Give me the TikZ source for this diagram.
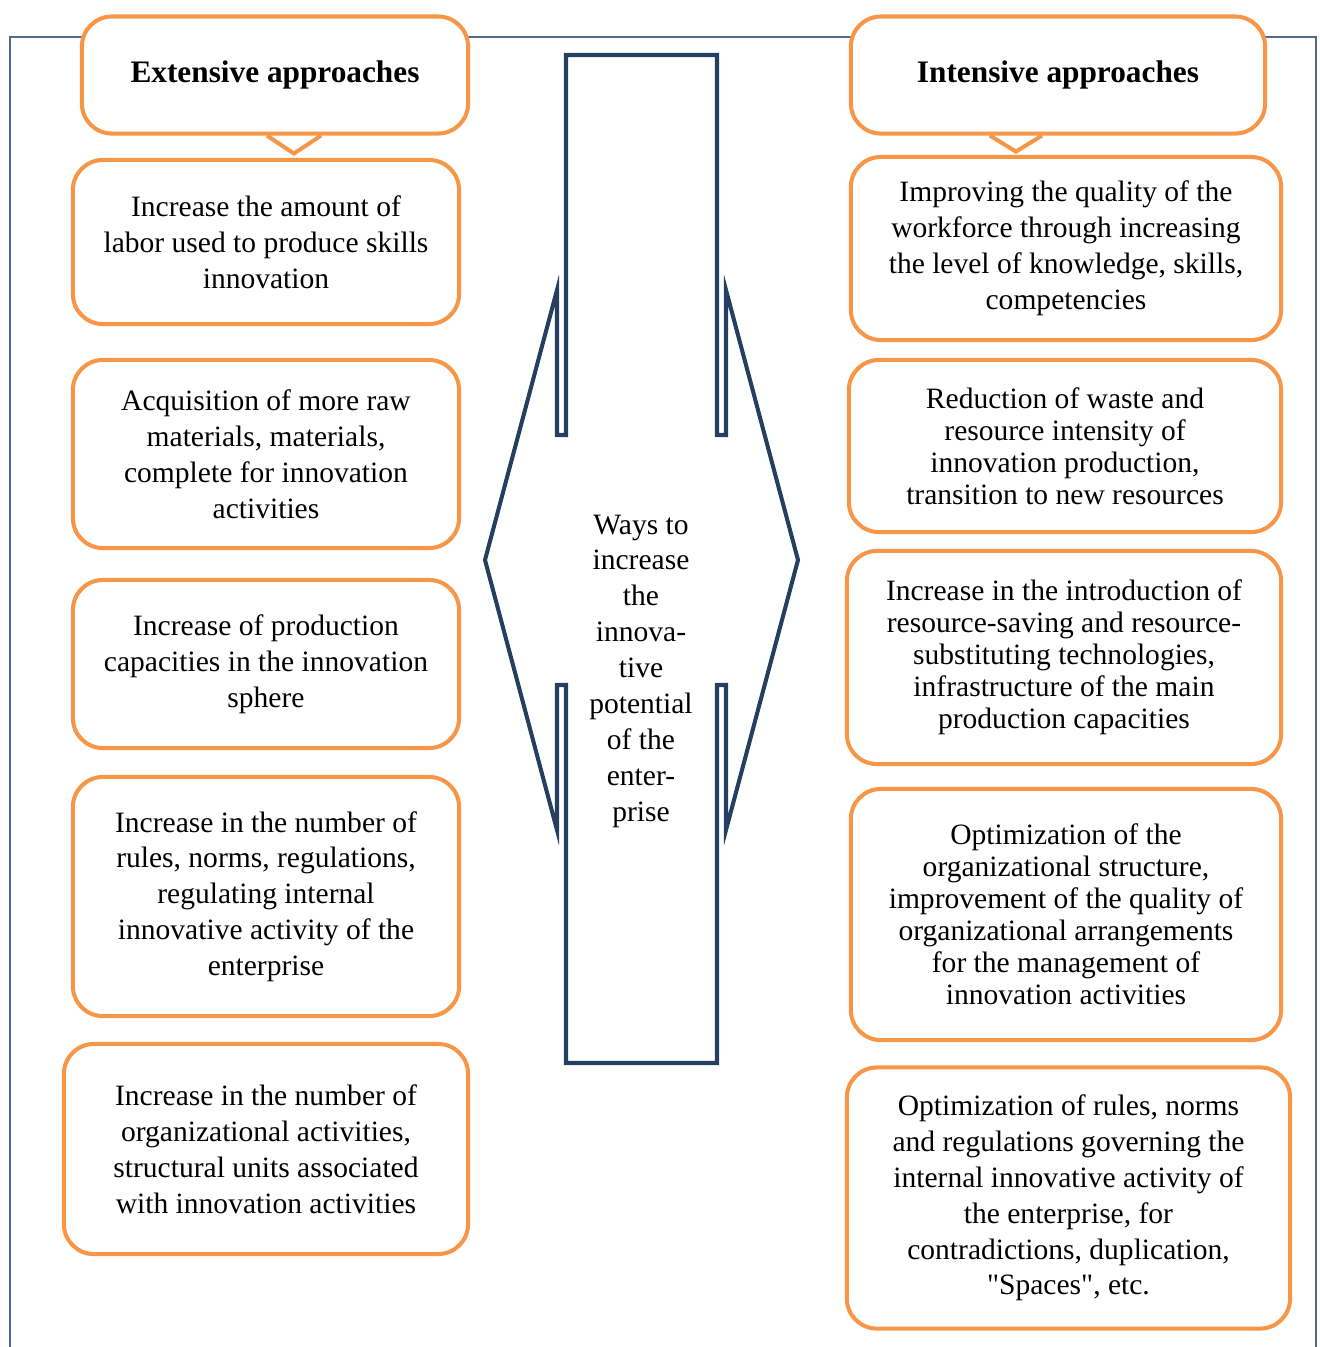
\documentclass[tikz,border=0pt]{standalone}
\usepackage{fontspec}
\setmainfont{Liberation Serif}
\usepackage{tikz}
\usetikzlibrary{positioning}
\definecolor{BoxOrange}{HTML}{F79646}
\definecolor{ArrowNavy}{HTML}{243F60}
\definecolor{FrameSlate}{HTML}{4F6A8A}

\begin{document}
\begin{tikzpicture}[x=0.01cm, y=-0.01cm,
    every node/.style={align=center, font=\fontsize{8.4}{10.2}\selectfont},
    box/.style={draw=BoxOrange, line width=1.15pt, rounded corners=0.3cm, fill=white},
    headbox/.style={box, font=\fontsize{8.9}{11}\selectfont\bfseries},
    tight/.style={font=\fontsize{8.4}{9.1}\selectfont},
    pointer/.style={draw=BoxOrange, line width=1.15pt, line join=miter}]
  \useasboundingbox (0,0) rectangle (1320,1347);

  % Outer frame
  \draw[FrameSlate, line width=0.5pt] (10,1347) -- (10,37) -- (1316,37) -- (1316,1347);

  % Headers
  \node[headbox, minimum width=3.86cm, minimum height=1.17cm] (hExt) at (275,75) {Extensive approaches};
  \node[headbox, minimum width=4.14cm, minimum height=1.17cm] (hInt) at (1058,75) {Intensive approaches};
  \draw[pointer] ([xshift=-0.08cm]hExt.south) -- ++(27,18) -- ++(27,-18);
  \draw[pointer] ([xshift=-0.68cm]hInt.south) -- ++(26,16) -- ++(26,-16);

  % Extensive ways
  \node[box, minimum width=3.86cm, minimum height=1.64cm] (ext1) at (266,242)
  {Increase the amount of\\ labor used to produce skills\\ innovation};
  \node[box, minimum width=3.86cm, minimum height=1.88cm] (ext2) at (266,454)
  {Acquisition of more raw\\ materials, materials,\\ complete for innovation\\ activities};
  \node[box, minimum width=3.86cm, minimum height=1.68cm] (ext3) at (266,664)
  {Increase of production\\ capacities in the innovation\\ sphere};
  \node[box, minimum width=3.86cm, minimum height=2.39cm] (ext4) at (266,896.5)
  {Increase in the number of\\ rules, norms, regulations,\\ regulating internal\\ innovative activity of the\\ enterprise};
  \node[box, minimum width=4.04cm, minimum height=2.10cm] (ext5) at (266,1149)
  {Increase in the number of\\ organizational activities,\\ structural units associated\\ with innovation activities};

  % Intensive ways
  \node[box, minimum width=4.30cm, minimum height=1.83cm] (int1) at (1066,248.5)
  {Improving the quality of the\\ workforce through increasing\\ the level of knowledge, skills,\\ competencies};
  \node[box, tight, minimum width=4.32cm, minimum height=1.72cm] (int2) at (1065,446)
  {Reduction of waste and\\ resource intensity of\\ innovation production,\\ transition to new resources};
  \node[box, tight, minimum width=4.34cm, minimum height=2.13cm] (int3) at (1064,657.5)
  {Increase in the introduction of\\ resource-saving and resource-\\ substituting technologies,\\ infrastructure of the main\\ production capacities};
  \node[box, tight, minimum width=4.30cm, minimum height=2.51cm] (int4) at (1066,914.5)
  {Optimization of the\\ organizational structure,\\ improvement of the quality of\\ organizational arrangements\\ for the management of\\ innovation activities};
  \node[box, minimum width=4.43cm, minimum height=2.61cm] (int5) at (1068.5,1198)
  {Optimization of rules, norms\\ and regulations governing the\\ internal innovative activity of\\ the enterprise, for\\ contradictions, duplication,\\ \textquotedbl Spaces\textquotedbl, etc.};

  % Two-way arrow in the middle
  \draw[ArrowNavy, line width=1.15pt, line join=miter]
    (566,55) -- (566,435) -- (557,435) -- (557,290) -- (485,560) -- (557,830)
    -- (557,685) -- (566,685) -- (566,1063) -- (717,1063) -- (717,685)
    -- (726,685) -- (726,830) -- (798,560) -- (726,290) -- (726,435)
    -- (717,435) -- (717,55) -- cycle;
  \node (ways) at (641,671)
  {Ways to\\ increase\\ the\\ innova-\\ tive\\ potential\\ of the\\ enter-\\ prise};
\end{tikzpicture}
\end{document}
